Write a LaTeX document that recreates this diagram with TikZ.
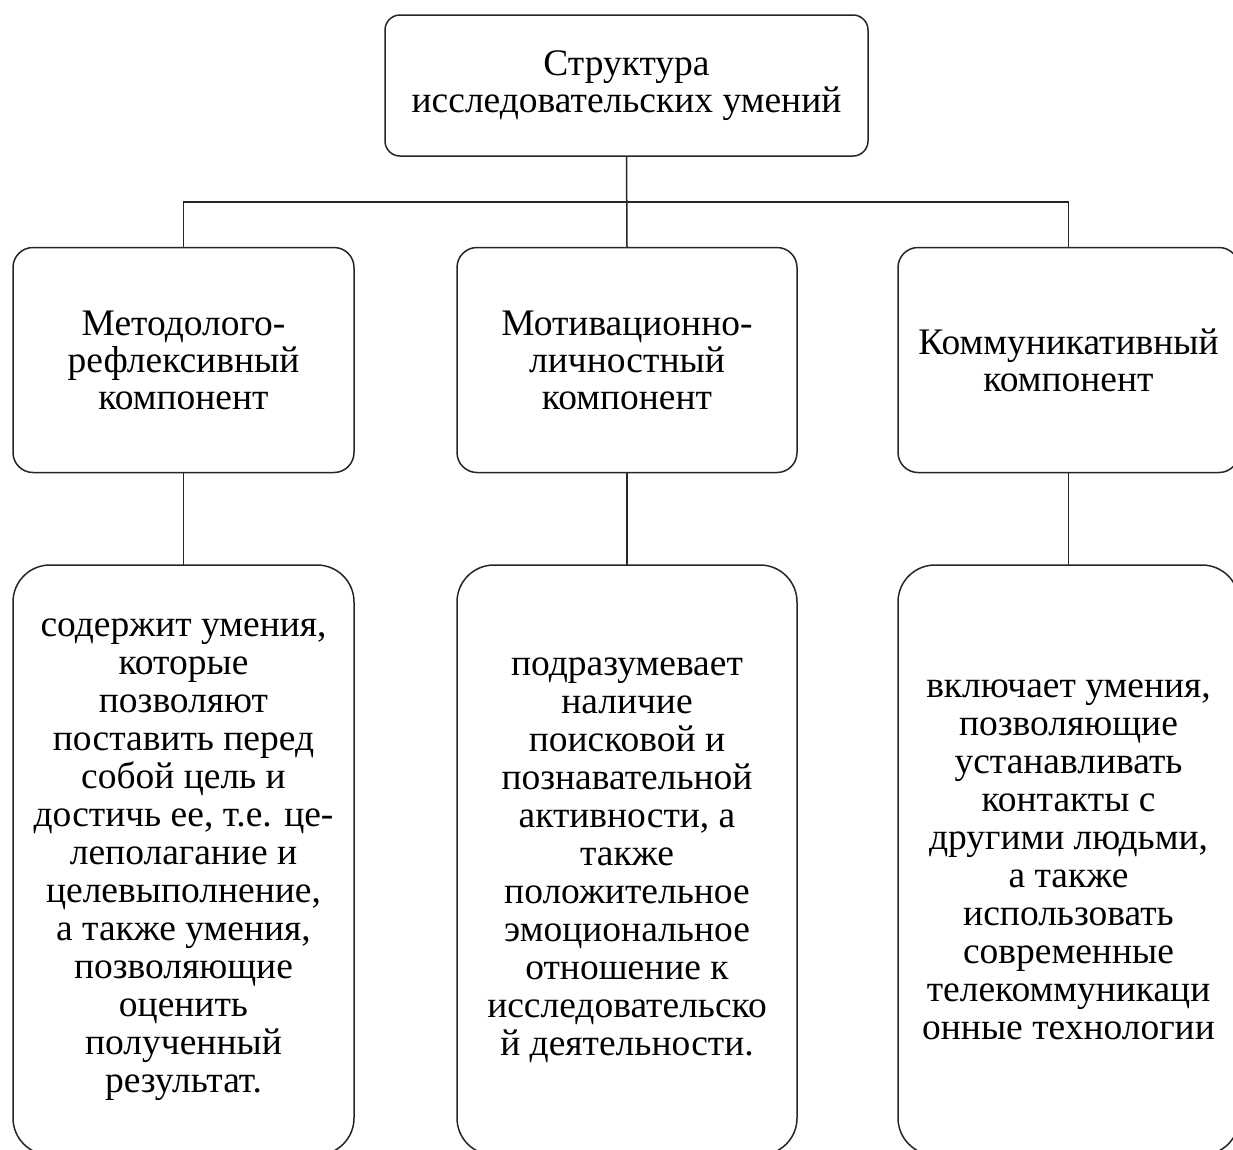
\documentclass[tikz,border=0pt]{standalone}
\usepackage{fontspec}
\setmainfont{Liberation Serif}
\begin{document}
\begin{tikzpicture}[x=1pt,y=-1pt,
  every node/.style={inner sep=0pt, outer sep=0pt},
  boxbase/.style={draw=black!85, line width=1.5pt, fill=white, align=center,
    font=\fontsize{37.5}{37}\selectfont},
  topbox/.style={boxbase, rounded corners=15pt, minimum width=483pt, minimum height=141pt},
  midbox/.style={boxbase, rounded corners=20pt, minimum width=341pt, minimum height=225pt},
  botbox/.style={boxbase, font=\fontsize{37.5}{38}\selectfont, rounded corners=37pt, minimum width=341pt, minimum height=590pt},
  link/.style={draw=black!85, line width=1.5pt}]
\useasboundingbox (0,0) rectangle (1233,1149);
\clip (0,0) rectangle (1233,1149);
\fill[white] (0,0) rectangle (1233,1149);

\node[topbox] (top) at (626.5,85.5) {Структура\\исследовательских умений};

\node[midbox] (m1) at (183.5,360) {Методолого-\\рефлексивный\\компонент};
\node[midbox, minimum width=340pt] (m2) at (627,360) {Мотивационно-\\личностный\\компонент};
\node[midbox] (m3) at (1068.5,360) {Коммуникативный\\компонент};

\node[botbox] (b1) at (183.5,860) {содержит умения,\\которые\\позволяют\\поставить перед\\собой цель и\\достичь ее, т.е. це-\\леполагание и\\целевыполнение,\\а также умения,\\позволяющие\\оценить\\полученный\\результат.};
\node[botbox, minimum width=340pt] (b2) at (627,860) {подразумевает\\наличие\\поисковой и\\познавательной\\активности, а\\также\\положительное\\эмоциональное\\отношение к\\исследовательско\\й деятельности.};
\node[botbox] (b3) at (1068.5,860) {включает умения,\\позволяющие\\устанавливать\\контакты с\\другими людьми,\\а также\\использовать\\современные\\телекоммуникаци\\онные технологии};

\coordinate (j) at (627,202);
\draw[link] (top.south) -- (m2.north);
\draw[link] (m1.north) |- (j) -| (m3.north);
\draw[link] (m1.south) -- (b1.north);
\draw[link] (m2.south) -- (b2.north);
\draw[link] (m3.south) -- (b3.north);
\end{tikzpicture}
\end{document}
